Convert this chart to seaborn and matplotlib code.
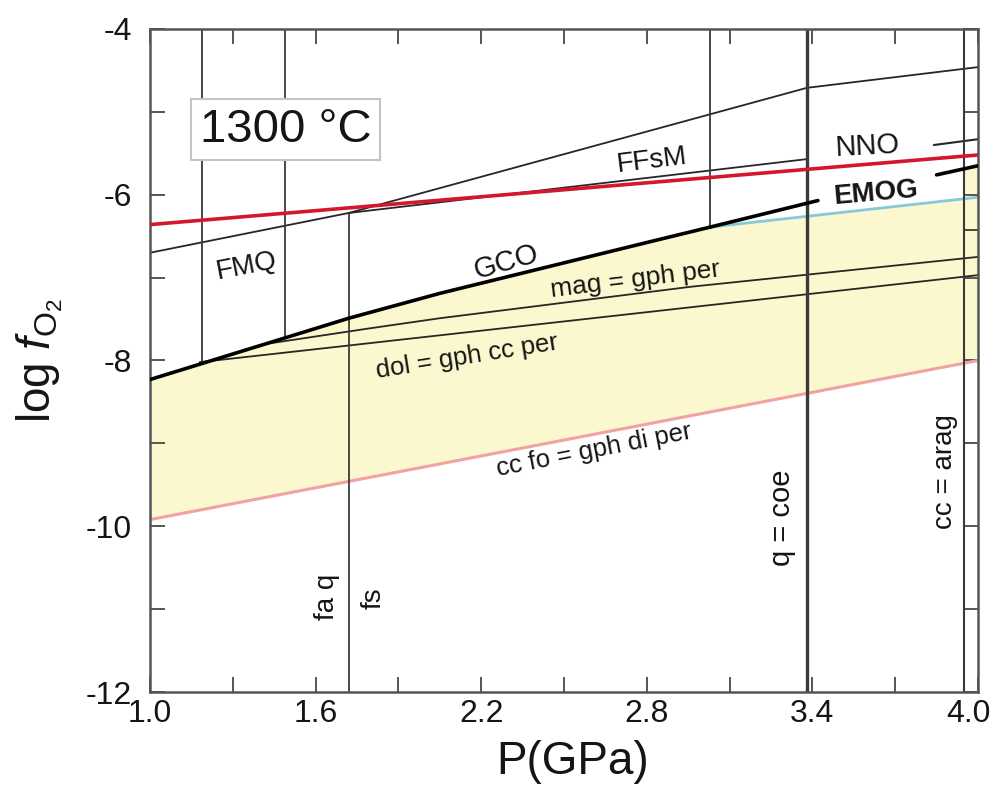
import numpy as np
import pandas as pd
import matplotlib
matplotlib.use("Agg")
import matplotlib.pyplot as plt
import matplotlib.transforms as mtransforms
from matplotlib import font_manager
import seaborn as sns

# ---------------- data (P in GPa, log fO2) ----------------
P_FMQ = [1.00, 1.72]
LOG_FMQ = [-6.70, -6.22]
P_FSMQ = [1.72, 3.38, 4.00]
LOG_FSMQ = [-6.22, -4.71, -4.46]
P_FFSM = [1.72, 3.38]
LOG_FFSM = [-6.22, -5.57]
P_RED = [1.00, 4.00]
LOG_RED = [-6.36, -5.52]
P_NNO = [3.84, 4.00]
LOG_NNO = [-5.40, -5.33]
P_GCO = [1.00, 1.72, 2.05, 2.82, 3.03]
LOG_GCO = [-8.23, -7.49, -7.19, -6.56, -6.39]
P_EMOG_A = [3.03, 3.42]
LOG_EMOG_A = [-6.39, -6.07]
P_EMOG_B = [3.85, 4.00]
LOG_EMOG_B = [-5.76, -5.65]
P_CYAN = [3.03, 4.00]
LOG_CYAN = [-6.39, -6.03]
P_MAG = [1.42, 1.80, 2.05, 2.96, 4.00]
LOG_MAG = [-7.80, -7.61, -7.49, -7.11, -6.75]
P_DOL = [1.18, 4.00]
LOG_DOL = [-8.02, -6.97]
P_CCFO = [1.00, 4.00]
LOG_CCFO = [-9.92, -8.00]
P_EDGE = [3.95, 4.00]
LOG_EDGE = [-6.42, -6.42]

# vertical reaction lines
V_P = [1.19, 1.49, 1.72, 3.03, 3.38, 3.95]
V_BOTTOM = [-8.03, -7.72, -12.0, -6.39, -12.0, -12.0]
V_TOP = [-4.0, -4.0, -6.22, -4.0, -4.0, -4.0]

X_TICKS = [1.0, 1.6, 2.2, 2.8, 3.4, 4.0]
X_TICKLABELS = ["1.0", "1.6", "2.2", "2.8", "3.4", "4.0"]
X_MINOR = [1.3, 1.9, 2.5, 3.1, 3.7]
Y_TICKS = [-12, -10, -8, -6, -4]
Y_TICKLABELS = ["-12", "-10", "-8", "-6", "-4"]
Y_MINOR = [-11, -9, -7, -5]

# ---------------- style ----------------
sns.set_theme(style="white")
names = {f.name for f in font_manager.fontManager.ttflist}
TICKFONT = "Liberation Sans Narrow" if "Liberation Sans Narrow" in names else "Liberation Sans"
plt.rcParams["font.family"] = ["Liberation Sans", "DejaVu Sans"]
plt.rcParams["mathtext.fontset"] = "custom"
plt.rcParams["mathtext.rm"] = "Liberation Sans"
plt.rcParams["mathtext.it"] = "Liberation Sans:italic"

TEXT = "#151515"
THIN = "#262626"
FRAME = "#555555"
YELLOW = "#fbf8cf"
RED = "#d3182b"
CYAN = "#86c9d9"
PINK = "#f2a2a2"

fig = plt.figure(figsize=(9.9, 7.94), dpi=100)
ax = fig.add_axes([150 / 990, 1 - 692 / 794, 828 / 990, 663 / 794])

# yellow field
grid = np.linspace(1.0, 4.0, 601)
upper = np.where(grid <= P_CYAN[0], np.interp(grid, P_GCO, LOG_GCO),
                 np.interp(grid, P_CYAN, LOG_CYAN))
lower = np.interp(grid, P_CCFO, LOG_CCFO)
ax.fill_between(grid, lower, upper, color=YELLOW, lw=0, zorder=0)
g2 = grid[grid >= V_P[-1]]
ax.fill_between(g2, np.interp(g2, P_CYAN, LOG_CYAN),
                np.interp(g2, P_EMOG_A + P_EMOG_B, LOG_EMOG_A + LOG_EMOG_B),
                color=YELLOW, lw=0, zorder=0)

def line(px, py, color, lw, z=2):
    sns.lineplot(x=px, y=py, ax=ax, color=color, lw=lw, sort=False,
                 estimator=None, zorder=z)

line(P_CCFO, LOG_CCFO, PINK, 2.2)
line(P_CYAN, LOG_CYAN, CYAN, 2.0)
line(P_MAG, LOG_MAG, THIN, 1.3)
line(P_DOL, LOG_DOL, THIN, 1.3)
line(P_FMQ, LOG_FMQ, THIN, 1.3)
line(P_FSMQ, LOG_FSMQ, THIN, 1.3)
line(P_FFSM, LOG_FFSM, THIN, 1.3)
line(P_NNO, LOG_NNO, THIN, 1.5)
line(P_EDGE, LOG_EDGE, THIN, 1.2)
line(P_RED, LOG_RED, RED, 2.6, z=3)
line(P_GCO, LOG_GCO, "black", 2.6, z=4)
line(P_EMOG_A, LOG_EMOG_A, "black", 2.6, z=4)
line(P_EMOG_B, LOG_EMOG_B, "black", 2.6, z=4)

ax.vlines(V_P, V_BOTTOM, V_TOP, colors="#3a3a3a",
          linewidths=[1.3, 1.3, 1.3, 1.3, 2.4, 1.5], zorder=2.5)

# ---------------- axes ----------------
ax.set_xlim(1.0, 4.0)
ax.set_ylim(-12, -4)
ax.set_xticks(X_TICKS)
ax.set_xticks(X_MINOR, minor=True)
ax.set_yticks(Y_TICKS)
ax.set_yticks(Y_MINOR, minor=True)
ax.set_xticklabels(X_TICKLABELS, fontsize=23, family=[TICKFONT, "DejaVu Sans"], color=TEXT)
ax.set_yticklabels(Y_TICKLABELS, fontsize=23, family=[TICKFONT, "DejaVu Sans"], color=TEXT)
ax.tick_params(which="both", direction="in", length=11, width=1.4, color=FRAME,
               top=True, right=True, bottom=True, left=True)
ax.tick_params(axis="x", pad=5)
ax.tick_params(axis="y", pad=13)
lab = ax.get_xticklabels()[-1]
lab.set_transform(lab.get_transform() + mtransforms.ScaledTranslation(-10 / 100, 0, fig.dpi_scale_trans))
for s in ax.spines.values():
    s.set_color(FRAME)
    s.set_linewidth(1.8)
ax.set_facecolor("white")

ax.set_xlabel("P(GPa)", fontsize=33, color=TEXT)
ax.xaxis.set_label_coords(0.51, -0.072)
ax.set_ylabel(r"log $f_{\mathrm{O}_2}$", fontsize=33, color=TEXT)
ax.yaxis.set_label_coords(-0.103, 0.50)

# ---------------- annotations ----------------
ax.text(0.164, 0.848, "1300 °C", transform=ax.transAxes, ha="center", va="center",
        fontsize=34, color=TEXT,
        bbox=dict(boxstyle="square,pad=0.18", fc="white", ec="#c4c4c4", lw=1.5), zorder=6)

def note(x, y, s, rot, size=19, weight="normal"):
    ax.text(x, y, s, rotation=rot, ha="center", va="center", fontsize=size,
            color=TEXT, fontweight=weight, rotation_mode="anchor", zorder=6)

note(1.35, -6.86, "FMQ", 11, 20)
note(2.29, -6.81, "GCO", 16, 21)
note(2.82, -5.59, "FFsM", 7, 20)
note(3.60, -5.41, "NNO", 3, 21)
note(3.63, -5.98, "EMOG", 5, 20, "bold")
note(2.76, -7.03, "mag = gph per", 7, 19)
note(2.15, -7.95, "dol = gph cc per", 9, 18.5)
note(2.61, -9.08, "cc fo = gph di per", 11, 18.5)
note(1.64, -10.85, "fa q", 90, 20)
note(1.81, -10.87, "fs", 90, 20)
note(3.29, -9.90, "q = coe", 90, 21)
note(3.88, -9.34, "cc = arag", 90, 20)

fig.savefig("out.png", dpi=100)
